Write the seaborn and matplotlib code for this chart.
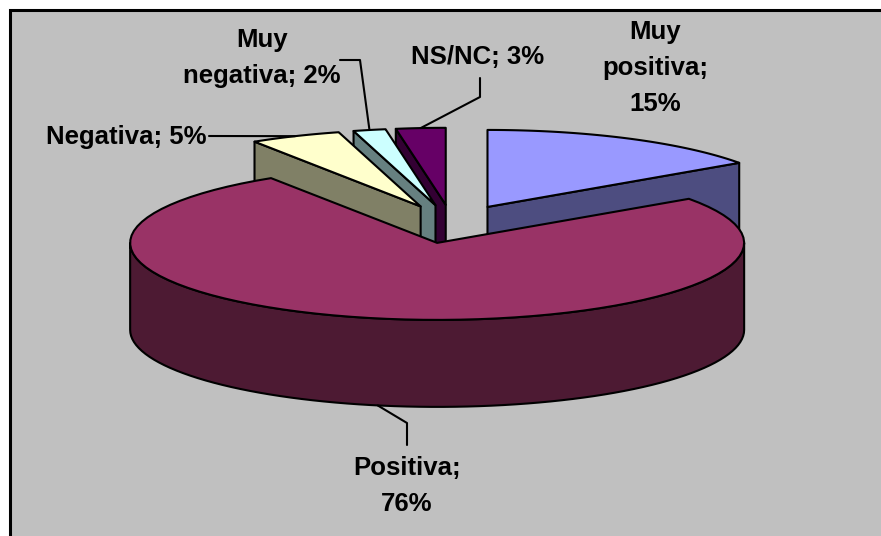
import numpy as np
import matplotlib
matplotlib.use("Agg")
import matplotlib.pyplot as plt
import seaborn as sns
from matplotlib.patches import Polygon, Rectangle

# data (clockwise from 12 o'clock)
categories = ["Muy positiva", "Positiva", "Negativa", "Muy negativa", "NS/NC"]
values = [15.3, 75.6, 4.8, 1.7, 2.6]
top_colors = ["#9999FF", "#993366", "#FFFFCC", "#CCFFFF", "#660066"]

sns.set_style("white")
plt.rcParams["font.family"] = ["Liberation Sans", "DejaVu Sans"]

fig = plt.figure(figsize=(8.81, 5.36), dpi=100)
ax = fig.add_axes([0, 0, 1, 1])
ax.set_xlim(0, 881)
ax.set_ylim(536, 0)
ax.axis("off")

# chart area (border runs off the right and bottom edges)
ax.add_patch(Rectangle((9.5, 9.5), 900, 560, facecolor="#C0C0C0",
                       edgecolor="none", zorder=0))
ax.plot([9.5, 9.5, 900], [600, 9.5, 9.5], color="black", lw=2.2,
        solid_joinstyle="miter", zorder=0.5)

# pie geometry (pixels)
cx, cy = 452, 224
rx, ry, depth = 307, 77, 87
explode = 0.25
lw = 1.5
pal = sns.color_palette(top_colors)
side_colors = [tuple(c * 0.5 for c in col) for col in pal]

fracs = np.array(values) / sum(values)
edges = np.concatenate([[0], np.cumsum(fracs)]) * 2 * np.pi


def arc(ox, oy, a, b, n=80):
    t = np.linspace(a, b, n)
    return np.column_stack([ox + rx * np.sin(t), oy - ry * np.cos(t)])


slices = []
for i, (a, b) in enumerate(zip(edges[:-1], edges[1:])):
    m = (a + b) / 2
    ox = cx + explode * rx * np.sin(m)
    oy = cy - explode * ry * np.cos(m)
    slices.append(dict(i=i, a=a, b=b, m=m, ox=ox, oy=oy))

# back to front
order = sorted(slices, key=lambda s: -np.cos(s["m"]))
z = 1
for s in order:
    i, a, b, ox, oy = s["i"], s["a"], s["b"], s["ox"], s["oy"]
    down = np.array([0, depth])
    apex = np.array([ox, oy])
    faces = []
    # radial faces
    if np.sin(a) < -1e-6:
        p = arc(ox, oy, a, a, 1)[0]
        faces.append([apex, p, p + down, apex + down])
    if np.sin(b) > 1e-6:
        p = arc(ox, oy, b, b, 1)[0]
        faces.append([apex, p, p + down, apex + down])
    # outer curved side, front half only
    lo, hi = max(a, np.pi / 2), min(b, 3 * np.pi / 2)
    if hi > lo:
        top = arc(ox, oy, lo, hi)
        faces.append(np.vstack([top, (top + down)[::-1]]))
    for f in faces:
        ax.add_patch(Polygon(np.array(f), closed=True, facecolor=side_colors[i],
                             edgecolor="black", lw=lw, joinstyle="round", zorder=z))
        z += 1
    top = np.vstack([apex, arc(ox, oy, a, b)])
    ax.add_patch(Polygon(top, closed=True, facecolor=pal[i], edgecolor="black",
                         lw=lw, joinstyle="round", zorder=z))
    z += 1


def mid_top(i):
    s = slices[i]
    return arc(s["ox"], s["oy"], s["m"], s["m"], 1)[0]


def mid_bottom(i):
    return mid_top(i) + np.array([0, depth])


labels = [f"{c}; {v:.0f}%" for c, v in zip(categories, values)]
font = dict(fontsize=18.5, fontweight="bold", color="black", ha="center",
            va="center", multialignment="center", linespacing=1.65, zorder=50)

ax.text(655, 68, "Muy\npositiva;\n" + f"{values[0]:.0f}%", **font)
ax.text(407, 486, "Positiva;\n" + f"{values[1]:.0f}%", **font)
ax.text(126, 137, labels[2], **font)
ax.text(262, 58, "Muy\nnegativa; " + f"{values[3]:.0f}%", **font)
ax.text(478, 57, labels[4], **font)

# leader lines
lk = dict(color="black", lw=1.5, zorder=49)
p = mid_top(2)
ax.plot([209, p[0]], [136, p[1]], **lk)
p = mid_top(3)
ax.plot([340, 360, p[0]], [60, 60, p[1]], **lk)
p = mid_top(4)
ax.plot([480, 480, p[0]], [78, 97, p[1]], **lk)
p = mid_bottom(1)
ax.plot([p[0], 407, 407], [p[1], 423, 445], **lk)

fig.savefig("out.png", dpi=100, facecolor="white")
